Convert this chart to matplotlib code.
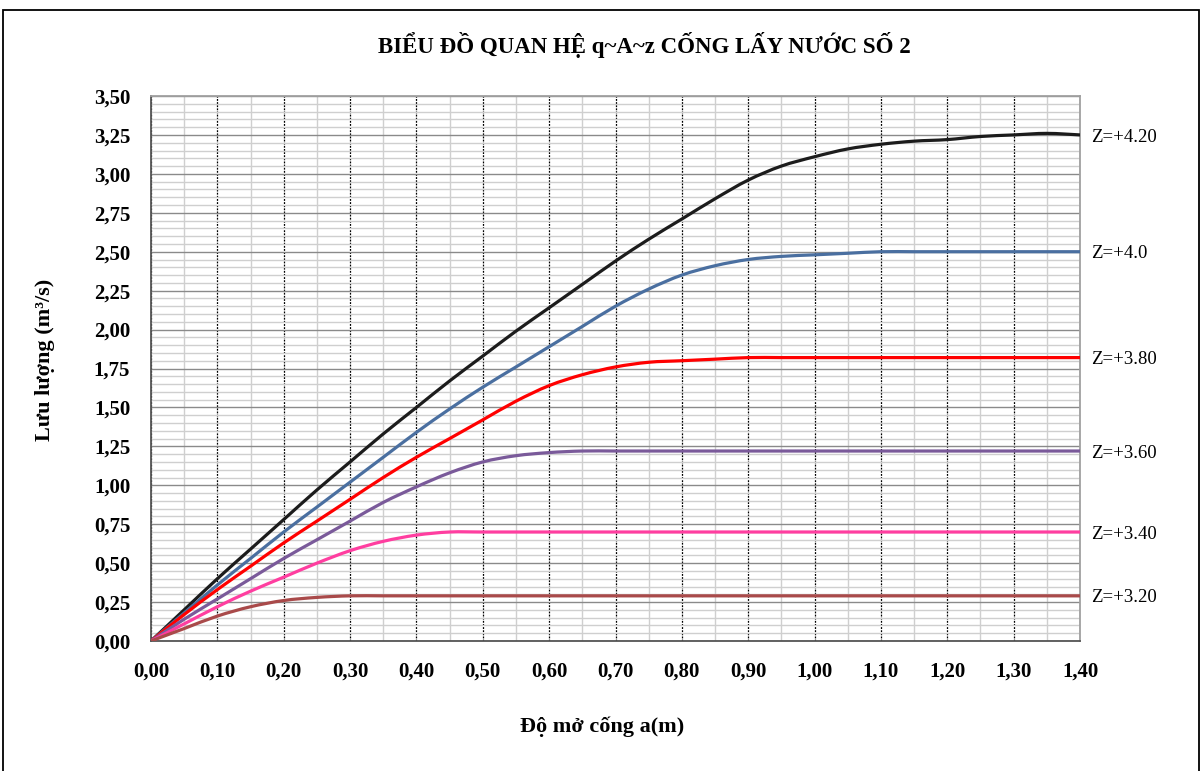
import numpy as np
import matplotlib
matplotlib.use("Agg")
import matplotlib.pyplot as plt
from matplotlib.patches import Rectangle, PathPatch
from matplotlib.path import Path
from matplotlib.ticker import MultipleLocator, FuncFormatter

# do mo cong a (m), step 0.05
a = np.round(np.arange(0, 1.45, 0.05), 2)

# luu luong q (m3/s)
q_420 = [0.00, 0.20, 0.40, 0.59, 0.78, 0.97, 1.15, 1.33, 1.50, 1.67, 1.83, 1.99, 2.14, 2.29, 2.44,
         2.58, 2.71, 2.84, 2.96, 3.05, 3.11, 3.16, 3.19, 3.21, 3.22, 3.24, 3.25, 3.26, 3.25]
q_400 = [0.00, 0.18, 0.36, 0.53, 0.70, 0.86, 1.02, 1.18, 1.34, 1.49, 1.63, 1.76, 1.89, 2.02, 2.15,
         2.26, 2.35, 2.41, 2.45, 2.47, 2.48, 2.49, 2.50, 2.50, 2.50, 2.50, 2.50, 2.50, 2.50]
q_380 = [0.00, 0.17, 0.33, 0.48, 0.63, 0.77, 0.91, 1.05, 1.18, 1.30, 1.42, 1.54, 1.64, 1.71, 1.76,
         1.79, 1.80, 1.81, 1.82, 1.82, 1.82, 1.82, 1.82, 1.82, 1.82, 1.82, 1.82, 1.82, 1.82]
q_360 = [0.00, 0.14, 0.27, 0.40, 0.53, 0.65, 0.77, 0.89, 0.99, 1.08, 1.15, 1.19, 1.21, 1.22, 1.22,
         1.22, 1.22, 1.22, 1.22, 1.22, 1.22, 1.22, 1.22, 1.22, 1.22, 1.22, 1.22, 1.22, 1.22]
q_340 = [0.00, 0.11, 0.22, 0.32, 0.41, 0.50, 0.58, 0.64, 0.68, 0.70, 0.70, 0.70, 0.70, 0.70, 0.70,
         0.70, 0.70, 0.70, 0.70, 0.70, 0.70, 0.70, 0.70, 0.70, 0.70, 0.70, 0.70, 0.70, 0.70]
q_320 = [0.00, 0.08, 0.16, 0.22, 0.26, 0.28, 0.29, 0.29, 0.29, 0.29, 0.29, 0.29, 0.29, 0.29, 0.29,
         0.29, 0.29, 0.29, 0.29, 0.29, 0.29, 0.29, 0.29, 0.29, 0.29, 0.29, 0.29, 0.29, 0.29]

series = [q_420, q_400, q_380, q_360, q_340, q_320]
labels = ["Z=+4.20", "Z=+4.0", "Z=+3.80", "Z=+3.60", "Z=+3.40", "Z=+3.20"]
colors = ["#1c1c1c", "#4a6fa0", "#ff0000", "#7a5a9a", "#ff3ea0", "#a94a4a"]


def smooth_path(x, y):
    # Excel-like smoothed line: cubic bezier through the points
    x = np.asarray(x, float)
    y = np.asarray(y, float)
    pts = np.column_stack([x, y])
    verts = [pts[0]]
    codes = [Path.MOVETO]
    n = len(pts)
    for i in range(n - 1):
        p0 = pts[max(i - 1, 0)]
        p1 = pts[i]
        p2 = pts[i + 1]
        p3 = pts[min(i + 2, n - 1)]
        verts += [p1 + (p2 - p0) / 6, p2 - (p3 - p1) / 6, p2]
        codes += [Path.CURVE4] * 3
    return Path(verts, codes)


plt.rcParams['font.family'] = ['Liberation Serif', 'DejaVu Serif']

W, H = 1203, 771
fig = plt.figure(figsize=(W / 100, H / 100), dpi=100)
ax = fig.add_axes([151 / W, 1 - 641 / H, (1080 - 151) / W, (641 - 96) / H])

# outer frame
fig.patches.append(Rectangle((3 / W, -0.05), 1196 / W, 1.05 - 10 / H, transform=fig.transFigure,
                             fill=False, edgecolor="black", linewidth=1.3))

ax.set_xlim(0, 1.4)
ax.set_ylim(0, 3.5)
ax.xaxis.set_major_locator(MultipleLocator(0.1))
ax.xaxis.set_minor_locator(MultipleLocator(0.05))
ax.yaxis.set_major_locator(MultipleLocator(0.25))
ax.yaxis.set_minor_locator(MultipleLocator(0.05))
comma = FuncFormatter(lambda v, p: f"{v:.2f}".replace(".", ","))
ax.xaxis.set_major_formatter(comma)
ax.yaxis.set_major_formatter(comma)

ax.grid(which="minor", axis="both", color="#cfcfcf", linewidth=1.0)
ax.grid(which="major", axis="y", color="#8a8a8a", linewidth=1.0)
ax.grid(which="major", axis="x", color="black", linewidth=0.9, linestyle=(0, (1.5, 1)))
ax.set_axisbelow(True)

ax.tick_params(which="both", length=0)
ax.tick_params(axis="y", pad=15, labelsize=15)
ax.tick_params(axis="x", pad=15, labelsize=15)
for lab in ax.get_xticklabels() + ax.get_yticklabels():
    lab.set_fontweight("bold")

for s in ["left", "bottom"]:
    ax.spines[s].set_color("#555555")
    ax.spines[s].set_linewidth(1.3)
for s in ["top", "right"]:
    ax.spines[s].set_color("#a0a0a0")
    ax.spines[s].set_linewidth(1.3)

for q, lab, c in zip(series, labels, colors):
    ax.add_patch(PathPatch(smooth_path(a, q), facecolor="none", edgecolor=c,
                           linewidth=2.3, capstyle="round", zorder=3))
    ax.annotate(lab, xy=(a[-1], q[-1]), xytext=(8, -1.5), textcoords="offset points",
                va="center", ha="left", fontsize=13.5, annotation_clip=False)

fig.text(644 / W, 1 - 45 / H, "BIỂU ĐỒ QUAN HỆ q~A~z CỐNG LẤY NƯỚC SỐ 2",
         ha="center", va="center", fontsize=16.5, fontweight="bold")
fig.text(602 / W, 1 - 727 / H, "Độ mở cống a(m)", ha="center", va="center",
         fontsize=16, fontweight="bold")
fig.text(45 / W, 1 - 360 / H, "Lưu lượng (m³/s)", ha="center", va="center",
         rotation=90, fontsize=16, fontweight="bold")

fig.savefig("out.png", dpi=100)
